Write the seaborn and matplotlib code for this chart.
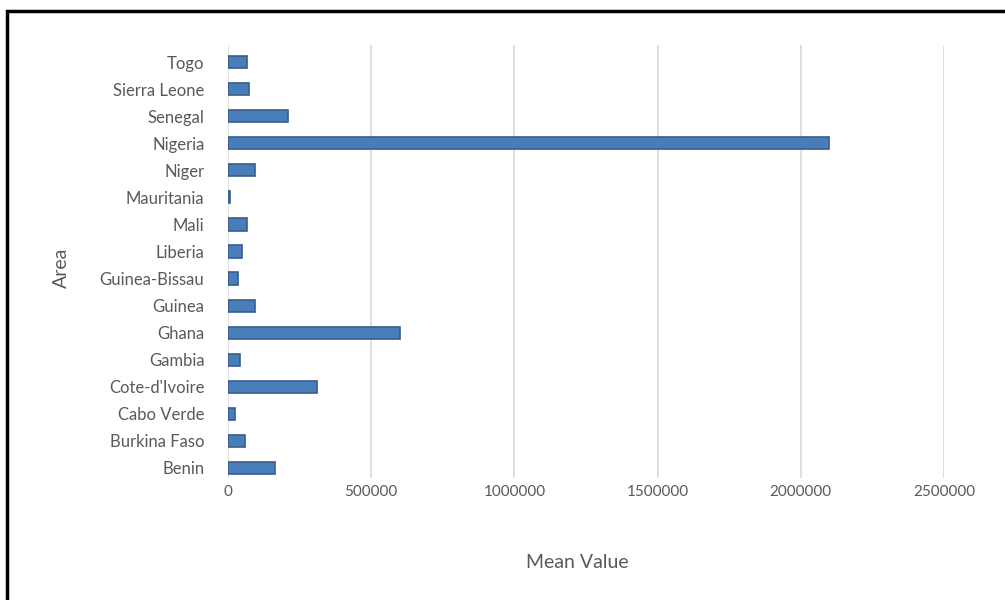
import matplotlib
matplotlib.use("Agg")
import matplotlib.pyplot as plt
import matplotlib.transforms as mtransforms
import seaborn as sns
import pandas as pd
from matplotlib.patches import Rectangle

areas = ["Benin", "Burkina Faso", "Cabo Verde", "Cote-d'Ivoire", "Gambia", "Ghana",
         "Guinea", "Guinea-Bissau", "Liberia", "Mali", "Mauritania", "Niger",
         "Nigeria", "Senegal", "Sierra Leone", "Togo"]
mean_values = [165000, 60000, 25000, 310000, 43000, 600000,
               95000, 35000, 50000, 65000, 8000, 95000,
               2100000, 210000, 72000, 65000]
x_ticks = [0, 500000, 1000000, 1500000, 2000000, 2500000]

df = pd.DataFrame({"Area": areas, "Mean Value": mean_values})

sns.set_theme(style="white")
plt.rcParams['font.family'] = ['Lato', 'DejaVu Sans']

fig = plt.figure(figsize=(10.05, 6.0), dpi=100)
ax = fig.add_axes([228/1005, 1-478/600, (944-228)/1005, (478-45)/600])

sns.barplot(data=df, x="Mean Value", y="Area", order=areas[::-1], orient="h",
            color="#4A7EBB", edgecolor="#385D8A", linewidth=1.2, width=0.45,
            saturation=1, ax=ax)

ax.set_xlim(0, 2500000)
ax.set_ylim(15.37, -0.63)
ax.set_xticks(x_ticks)
ax.set_xticklabels([str(t) for t in x_ticks], fontsize=11, color="#595959")
offset = mtransforms.ScaledTranslation(-6/100, 0, fig.dpi_scale_trans)
for lbl in ax.get_xticklabels():
    lbl.set_transform(lbl.get_transform() + offset)
ax.tick_params(axis="x", length=0, pad=5)
ax.tick_params(axis="y", length=0, pad=17, labelsize=12, labelcolor="#595959")
ax.grid(axis="x", color="#D9D9D9", linewidth=1.2)
ax.set_axisbelow(True)
for s in ax.spines.values():
    s.set_visible(False)

ax.set_xlabel("Mean Value", fontsize=14, color="#595959")
ax.set_ylabel("Area", fontsize=14, color="#595959")
ax.xaxis.set_label_coords((577-228)/716, (478-554)/433)
ax.yaxis.set_label_coords((70-228)/716, (478-268)/433)

fig.patches.append(Rectangle((7/1005, -0.1), 1.2, 1-11/600+0.1, transform=fig.transFigure,
                             fill=False, edgecolor="black", linewidth=2.5, zorder=10))

fig.savefig("out.png", dpi=100)
